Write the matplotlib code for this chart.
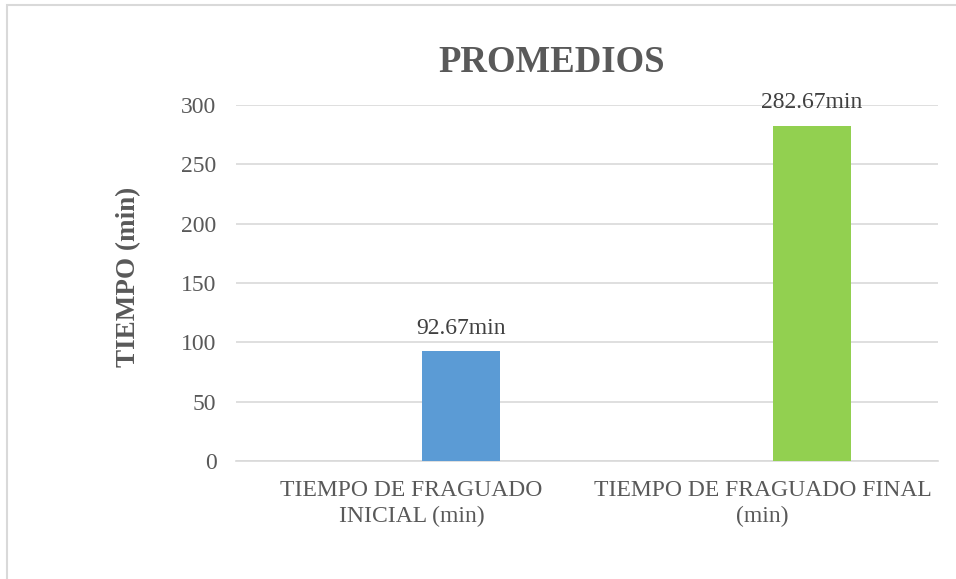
import matplotlib.pyplot as plt
from matplotlib.patches import Rectangle

categories = ["TIEMPO DE FRAGUADO\nINICIAL (min)", "TIEMPO DE FRAGUADO FINAL\n(min)"]
values = [92.67, 282.67]
colors = ["#5B9BD5", "#92D050"]
yticks = [0, 50, 100, 150, 200, 250, 300]

plt.rcParams['font.family'] = ['Liberation Serif', 'DejaVu Serif']

fig = plt.figure(figsize=(9.56, 5.79), dpi=100)
ax = fig.add_axes([236 / 956, 1 - 461 / 579, (938 - 236) / 956, (461 - 105) / 579])

# chart border (Excel style)
fig.patches.append(Rectangle((7 / 956, -0.1), 1.1, 1 - 5 / 579 + 0.1, transform=fig.transFigure,
                             fill=False, edgecolor="#D9D9D9", linewidth=1.5))

x = [0, 1]
offset = 0.141
bars = ax.bar([i + offset for i in x], values, width=0.222, color=colors, zorder=3)
for b, v in zip(bars, values):
    ax.annotate(f"{v:.2f}min", (b.get_x() + b.get_width() / 2, v), xytext=(0, 9),
                textcoords="offset points", ha="center", va="bottom",
                fontsize=17, color="#404040")

ax.set_xlim(-0.5, 1.5)
ax.set_ylim(0, 300)
ax.set_yticks(yticks)
ax.set_xticks(x)
ax.set_xticklabels(categories, fontsize=17, color="#595959", linespacing=1.3)
ax.tick_params(axis="y", labelsize=17, labelcolor="#595959", length=0, pad=14)
ax.tick_params(axis="x", length=0, pad=14)
ax.grid(axis="y", color="#D9D9D9", linewidth=1.2, zorder=0)
for s in ["top", "right", "left"]:
    ax.spines[s].set_visible(False)
ax.spines["bottom"].set_color("#D9D9D9")
ax.spines["bottom"].set_linewidth(1.2)

ax.set_ylabel("TIEMPO (min)", fontsize=19.5, fontweight="bold", color="#595959")
ax.yaxis.set_label_coords(-0.135, 0.517)
fig.text(552 / 956, 1 - 63 / 579, "PROMEDIOS", ha="center", va="center",
         fontsize=26.5, fontweight="bold", color="#595959")

fig.savefig("out.png", dpi=100)
